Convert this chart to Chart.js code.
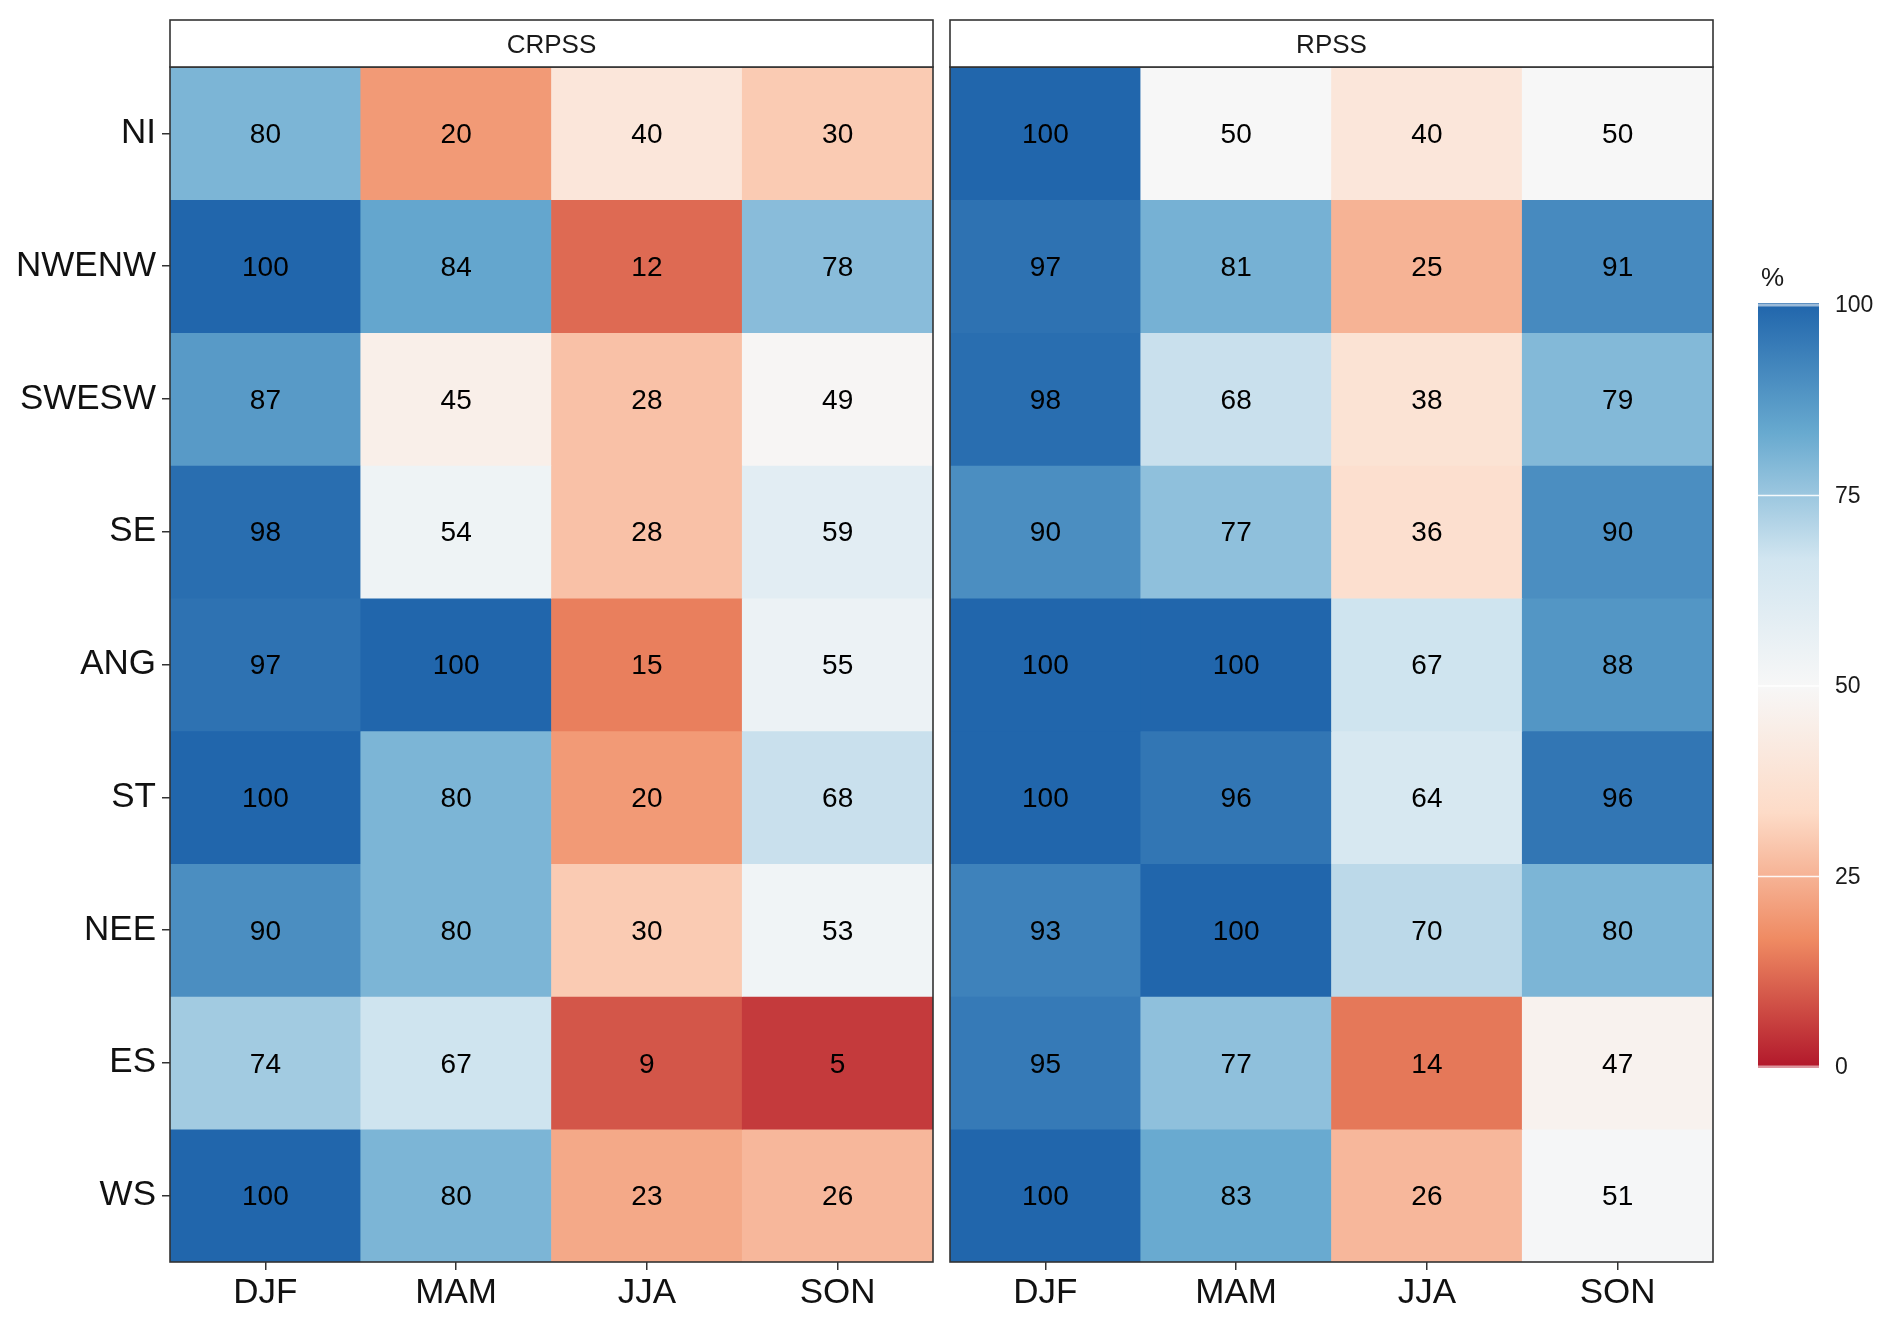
<!DOCTYPE html>
<html>
<head>
<meta charset="utf-8">
<script src="https://cdn.jsdelivr.net/npm/chart.js@4.4.1/dist/chart.umd.min.js"></script>
<style>
  html, body { margin: 0; padding: 0; background: #fff; overflow: hidden; }
  #wrap { position: relative; width: 1892px; height: 1321px; }
  canvas { position: absolute; top: 0; }
</style>
</head>
<body>
<div id="wrap">
  <canvas id="crpssChart" width="940" height="1321" style="left:0"></canvas>
  <canvas id="rpssChart" width="952" height="1321" style="left:940px"></canvas>
</div>
<script>
// ---- data ----
const seasons = ['DJF', 'MAM', 'JJA', 'SON'];
const regions = ['NI', 'NWENW', 'SWESW', 'SE', 'ANG', 'ST', 'NEE', 'ES', 'WS'];

const crpssValues = [
  [80, 20, 40, 30],
  [100, 84, 12, 78],
  [87, 45, 28, 49],
  [98, 54, 28, 59],
  [97, 100, 15, 55],
  [100, 80, 20, 68],
  [90, 80, 30, 53],
  [74, 67, 9, 5],
  [100, 80, 23, 26],
];

const rpssValues = [
  [100, 50, 40, 50],
  [97, 81, 25, 91],
  [98, 68, 38, 79],
  [90, 77, 36, 90],
  [100, 100, 67, 88],
  [100, 96, 64, 96],
  [93, 100, 70, 80],
  [95, 77, 14, 47],
  [100, 83, 26, 51],
];

const legendTicks = [0, 25, 50, 75, 100];

// RdBu (brewer, 7 classes), low -> high
const palette = ['#b2182b', '#ef8a62', '#fddbc7', '#f7f7f7', '#d1e5f0', '#67a9cf', '#2166ac'];

const FONT = '"Liberation Sans", Arial, sans-serif';

// ---- colour helpers ----
function hexToRgb(h) {
  return [parseInt(h.slice(1, 3), 16), parseInt(h.slice(3, 5), 16), parseInt(h.slice(5, 7), 16)];
}

function fillColor(v) {
  const t = Math.max(0, Math.min(1, v / 100)) * (palette.length - 1);
  const i = Math.min(Math.floor(t), palette.length - 2);
  const f = t - i;
  const a = hexToRgb(palette[i]);
  const b = hexToRgb(palette[i + 1]);
  const c = a.map((x, k) => Math.round(x + (b[k] - x) * f));
  return `rgb(${c[0]},${c[1]},${c[2]})`;
}

// one dataset per region row, floating bars [row, row+1]
function buildDatasets(values) {
  return regions.map((reg, r) => ({
    label: reg,
    data: seasons.map(() => [r, r + 1]),
    values: values[r],
    backgroundColor: values[r].map(fillColor),
    borderWidth: 0,
    barPercentage: 1,
    categoryPercentage: 1,
    grouped: false,
  }));
}

// ────────────────────────────────────────────────
// Panel decorations: strip, border, cell numbers
// ────────────────────────────────────────────────
const panelPlugin = {
  id: 'panel',
  afterDatasetsDraw(chart, args, opts) {
    const { ctx, chartArea: a } = chart;
    ctx.save();

    // cell numbers
    ctx.fillStyle = '#000';
    ctx.font = `28px ${FONT}`;
    ctx.textAlign = 'center';
    ctx.textBaseline = 'middle';
    chart.data.datasets.forEach((ds, di) => {
      const meta = chart.getDatasetMeta(di);
      meta.data.forEach((el, i) => {
        ctx.fillText(String(ds.values[i]), el.x, (el.y + el.base) / 2 + 2);
      });
    });

    // panel border
    ctx.strokeStyle = '#333';
    ctx.lineWidth = 1.6;
    ctx.strokeRect(a.left, a.top, a.right - a.left, a.bottom - a.top);

    // strip
    const stripTop = 20;
    ctx.fillStyle = '#fff';
    ctx.fillRect(a.left, stripTop, a.right - a.left, a.top - stripTop);
    ctx.strokeRect(a.left, stripTop, a.right - a.left, a.top - stripTop);
    ctx.fillStyle = '#1a1a1a';
    ctx.font = `26px ${FONT}`;
    ctx.fillText(opts.title, (a.left + a.right) / 2, (stripTop + a.top) / 2 + 2);
    ctx.restore();
  }
};

// ────────────────────────────────────────────────
// Colour bar legend (right of RPSS panel)
// ────────────────────────────────────────────────
const colorbarPlugin = {
  id: 'colorbar',
  afterDraw(chart) {
    const { ctx } = chart;
    const x = 818, w = 61;
    const top = 303, bottom = 1068;
    const yOf = v => (bottom - 1) - (v / 100) * (bottom - 1 - (top + 2));
    ctx.save();

    const grad = ctx.createLinearGradient(0, yOf(0), 0, yOf(100));
    palette.forEach((c, i) => grad.addColorStop(i / (palette.length - 1), c));
    ctx.fillStyle = grad;
    ctx.fillRect(x, top, w, bottom - top);

    // white tick lines
    legendTicks.forEach(v => {
      const y = yOf(v);
      ctx.strokeStyle = (v === 0 || v === 100) ? 'rgba(255,255,255,0.55)' : 'rgba(255,255,255,0.9)';
      ctx.lineWidth = (v === 0 || v === 100) ? 3 : 1.5;
      ctx.beginPath();
      ctx.moveTo(x, y);
      ctx.lineTo(x + w, y);
      ctx.stroke();
    });

    // labels
    ctx.fillStyle = '#1a1a1a';
    ctx.font = `23px ${FONT}`;
    ctx.textAlign = 'left';
    ctx.textBaseline = 'middle';
    legendTicks.forEach(v => ctx.fillText(String(v), x + w + 16, yOf(v) + 1));

    // title
    ctx.font = `26px ${FONT}`;
    ctx.textAlign = 'left';
    ctx.fillText('%', x + 3, 279);
    ctx.restore();
  }
};

function buildPanel(canvasId, values, title, showY, padding, extraPlugins) {
  const ctx = document.getElementById(canvasId).getContext('2d');
  return new Chart(ctx, {
    type: 'bar',
    data: { labels: seasons, datasets: buildDatasets(values) },
    options: {
      responsive: false,
      animation: false,
      events: [],
      layout: { padding },
      plugins: {
        legend: { display: false },
        tooltip: { enabled: false },
        panel: { title },
      },
      scales: {
        x: {
          type: 'category',
          offset: true,
          afterFit: s => { s.height = 59; },
          border: { display: false },
          grid: {
            offset: false,
            drawOnChartArea: false,
            drawTicks: true,
            tickLength: 8,
            color: '#333',
            lineWidth: 1.5,
          },
          ticks: {
            color: '#111',
            font: { family: FONT, size: 35 },
            padding: 2,
            maxRotation: 0,
          },
        },
        y: {
          type: 'linear',
          display: showY,
          min: 0,
          max: regions.length,
          reverse: true,
          afterBuildTicks: s => { s.ticks = regions.map((_, i) => ({ value: i + 0.5 })); },
          afterFit: s => { if (showY) s.width = 170; },
          border: { display: false },
          grid: {
            drawOnChartArea: false,
            drawTicks: true,
            tickLength: 8,
            color: '#333',
            lineWidth: 1.5,
          },
          ticks: {
            color: '#111',
            font: { family: FONT, size: 35 },
            padding: 6,
            callback: (v, i) => regions[i],
          },
        },
      },
    },
    plugins: [panelPlugin].concat(extraPlugins || []),
  });
}

buildPanel('crpssChart', crpssValues, 'CRPSS', true, { top: 67, right: 7, left: 0, bottom: 0 });
buildPanel('rpssChart', rpssValues, 'RPSS', false, { top: 67, right: 179, left: 10, bottom: 0 }, [colorbarPlugin]);
</script>
</body>
</html>
